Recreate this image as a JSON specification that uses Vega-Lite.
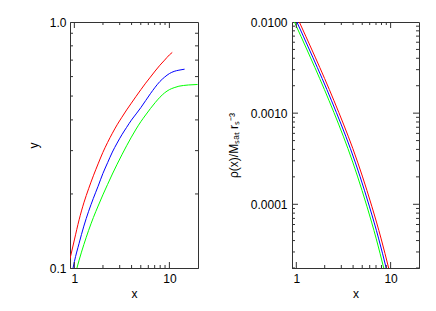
{
  "$schema": "https://vega.github.io/schema/vega-lite/v6.json",
  "padding": {"left": 26, "top": 15, "right": 5, "bottom": 5},
  "background": "white",
  "config": {
    "view": {"stroke": "#333333", "strokeWidth": 1},
    "font": "Liberation Sans",
    "axis": {
      "domain": true, "domainColor": "#333333", "domainWidth": 1, "ticks": false, "labelColor": "#000000", "titleColor": "#000000",
      "labelFontSize": 12, "titleFontSize": 12, "titleFontWeight": "normal", "grid": false,
      "labelFont": "Liberation Sans", "titleFont": "Liberation Sans", "labelFlush": false, "labelOverlap": false
    },
    "tick": {"color": "#333333", "thickness": 1, "opacity": 1}
  },
  "datasets": {
    "mass": [
      {"s": "r", "x": 0.9, "y": 0.109}, {"s": "r", "x": 1.0, "y": 0.130}, {"s": "r", "x": 1.122, "y": 0.157},
      {"s": "r", "x": 1.259, "y": 0.184}, {"s": "r", "x": 1.413, "y": 0.210}, {"s": "r", "x": 1.585, "y": 0.237},
      {"s": "r", "x": 1.778, "y": 0.265}, {"s": "r", "x": 1.995, "y": 0.295}, {"s": "r", "x": 2.239, "y": 0.324},
      {"s": "r", "x": 2.512, "y": 0.353}, {"s": "r", "x": 2.818, "y": 0.382}, {"s": "r", "x": 3.162, "y": 0.410},
      {"s": "r", "x": 3.548, "y": 0.439}, {"s": "r", "x": 3.981, "y": 0.468}, {"s": "r", "x": 4.467, "y": 0.499},
      {"s": "r", "x": 5.012, "y": 0.531}, {"s": "r", "x": 5.623, "y": 0.564}, {"s": "r", "x": 6.31, "y": 0.597},
      {"s": "r", "x": 7.079, "y": 0.632}, {"s": "r", "x": 7.943, "y": 0.667}, {"s": "r", "x": 8.913, "y": 0.700},
      {"s": "r", "x": 10.0, "y": 0.735}, {"s": "r", "x": 10.72, "y": 0.752},
      {"s": "b", "x": 0.969, "y": 0.100}, {"s": "b", "x": 1.0, "y": 0.106}, {"s": "b", "x": 1.122, "y": 0.126},
      {"s": "b", "x": 1.259, "y": 0.148}, {"s": "b", "x": 1.413, "y": 0.170}, {"s": "b", "x": 1.585, "y": 0.192},
      {"s": "b", "x": 1.778, "y": 0.215}, {"s": "b", "x": 1.995, "y": 0.242}, {"s": "b", "x": 2.239, "y": 0.268},
      {"s": "b", "x": 2.512, "y": 0.296}, {"s": "b", "x": 2.818, "y": 0.322}, {"s": "b", "x": 3.162, "y": 0.348},
      {"s": "b", "x": 3.548, "y": 0.373}, {"s": "b", "x": 3.981, "y": 0.399}, {"s": "b", "x": 4.467, "y": 0.423},
      {"s": "b", "x": 5.012, "y": 0.449}, {"s": "b", "x": 5.623, "y": 0.479}, {"s": "b", "x": 6.31, "y": 0.511},
      {"s": "b", "x": 7.079, "y": 0.543}, {"s": "b", "x": 7.943, "y": 0.573}, {"s": "b", "x": 8.913, "y": 0.597},
      {"s": "b", "x": 10.0, "y": 0.617}, {"s": "b", "x": 11.22, "y": 0.630}, {"s": "b", "x": 12.59, "y": 0.637},
      {"s": "b", "x": 14.45, "y": 0.643},
      {"s": "g", "x": 1.065, "y": 0.100}, {"s": "g", "x": 1.122, "y": 0.1076}, {"s": "g", "x": 1.259, "y": 0.1245},
      {"s": "g", "x": 1.413, "y": 0.1422}, {"s": "g", "x": 1.585, "y": 0.1603}, {"s": "g", "x": 1.778, "y": 0.1786},
      {"s": "g", "x": 1.995, "y": 0.1982}, {"s": "g", "x": 2.239, "y": 0.2188}, {"s": "g", "x": 2.512, "y": 0.241},
      {"s": "g", "x": 2.818, "y": 0.2642}, {"s": "g", "x": 3.162, "y": 0.2884}, {"s": "g", "x": 3.548, "y": 0.314},
      {"s": "g", "x": 3.981, "y": 0.3404}, {"s": "g", "x": 4.467, "y": 0.3673}, {"s": "g", "x": 5.012, "y": 0.3936},
      {"s": "g", "x": 5.623, "y": 0.4188}, {"s": "g", "x": 6.31, "y": 0.4446}, {"s": "g", "x": 7.079, "y": 0.4699},
      {"s": "g", "x": 7.943, "y": 0.4943}, {"s": "g", "x": 8.913, "y": 0.5152}, {"s": "g", "x": 10.0, "y": 0.5309},
      {"s": "g", "x": 11.22, "y": 0.5408}, {"s": "g", "x": 12.59, "y": 0.5483}, {"s": "g", "x": 14.13, "y": 0.5521},
      {"s": "g", "x": 15.85, "y": 0.5546}, {"s": "g", "x": 19.8, "y": 0.5572}
    ],
    "dens": [
      {"s": "r", "x": 1.076, "y": 0.01}, {"s": "r", "x": 1.259, "y": 0.0070}, {"s": "r", "x": 1.585, "y": 0.00412},
      {"s": "r", "x": 1.995, "y": 0.00240}, {"s": "r", "x": 2.512, "y": 0.001365}, {"s": "r", "x": 3.162, "y": 0.000759},
      {"s": "r", "x": 3.981, "y": 0.000407}, {"s": "r", "x": 5.012, "y": 0.000204}, {"s": "r", "x": 6.31, "y": 0.0000955},
      {"s": "r", "x": 7.943, "y": 0.0000417}, {"s": "r", "x": 9.528, "y": 0.0000200},
      {"s": "b", "x": 1.0135, "y": 0.01}, {"s": "b", "x": 1.186, "y": 0.0070}, {"s": "b", "x": 1.493, "y": 0.00412},
      {"s": "b", "x": 1.879, "y": 0.00240}, {"s": "b", "x": 2.366, "y": 0.001365}, {"s": "b", "x": 2.978, "y": 0.000759},
      {"s": "b", "x": 3.75, "y": 0.000407}, {"s": "b", "x": 4.721, "y": 0.000204}, {"s": "b", "x": 5.943, "y": 0.0000955},
      {"s": "b", "x": 7.482, "y": 0.0000417}, {"s": "b", "x": 8.975, "y": 0.0000200},
      {"s": "g", "x": 0.955, "y": 0.01}, {"s": "g", "x": 1.117, "y": 0.0070}, {"s": "g", "x": 1.406, "y": 0.00412},
      {"s": "g", "x": 1.77, "y": 0.00240}, {"s": "g", "x": 2.229, "y": 0.001365}, {"s": "g", "x": 2.805, "y": 0.000759},
      {"s": "g", "x": 3.532, "y": 0.000407}, {"s": "g", "x": 4.447, "y": 0.000204}, {"s": "g", "x": 5.598, "y": 0.0000955},
      {"s": "g", "x": 7.047, "y": 0.0000417}, {"s": "g", "x": 8.453, "y": 0.0000200}
    ],
    "xmin": [{"v": 2}, {"v": 3}, {"v": 4}, {"v": 5}, {"v": 6}, {"v": 7}, {"v": 8}, {"v": 9}],
    "xmaj": [{"v": 1}, {"v": 10}],
    "yAmin": [{"v": 0.2}, {"v": 0.3}, {"v": 0.4}, {"v": 0.5}, {"v": 0.6}, {"v": 0.7}, {"v": 0.8}, {"v": 0.9}],
    "yBmin": [
      {"v": 0.00002}, {"v": 0.00003}, {"v": 0.00004}, {"v": 0.00005}, {"v": 0.00006}, {"v": 0.00007}, {"v": 0.00008}, {"v": 0.00009},
      {"v": 0.0002}, {"v": 0.0003}, {"v": 0.0004}, {"v": 0.0005}, {"v": 0.0006}, {"v": 0.0007}, {"v": 0.0008}, {"v": 0.0009},
      {"v": 0.002}, {"v": 0.003}, {"v": 0.004}, {"v": 0.005}, {"v": 0.006}, {"v": 0.007}, {"v": 0.008}, {"v": 0.009}
    ],
    "yBmaj": [{"v": 0.0001}, {"v": 0.001}]
  },
  "spacing": 27,
  "hconcat": [
    {
      "width": 128, "height": 246,
      "resolve": {"axis": {"x": "independent", "y": "independent"}},
      "layer": [
        {
          "data": {"name": "mass"},
          "mark": {"type": "line", "clip": true, "strokeWidth": 1, "interpolate": "monotone"},
          "encoding": {
            "x": {"field": "x", "type": "quantitative",
              "scale": {"type": "log", "domain": [0.9, 20], "nice": false},
              "axis": {"orient": "bottom", "title": "x", "values": [1, 10], "format": "d",
                "labelPadding": 5, "titlePadding": 4}},
            "y": {"field": "y", "type": "quantitative",
              "scale": {"type": "log", "domain": [0.1, 1], "nice": false},
              "axis": {"orient": "left", "title": "y", "values": [0.1, 1.0], "format": ".1f",
                "labelPadding": 4, "titlePadding": 8, "minExtent": 22, "maxExtent": 22}},
            "color": {"field": "s", "type": "nominal",
              "scale": {"domain": ["r", "b", "g"], "range": ["#ff0000", "#0000ff", "#00ff00"]}, "legend": null}
          }
        },
        {"data": {"name": "xmin"}, "mark": {"type": "tick", "orient": "vertical", "size": 3, "yOffset": -1.5},
          "encoding": {"x": {"field": "v", "type": "quantitative", "axis": null}, "y": {"datum": 0.1, "type": "quantitative", "axis": null}}},
        {"data": {"name": "xmaj"}, "mark": {"type": "tick", "orient": "vertical", "size": 6, "yOffset": -3},
          "encoding": {"x": {"field": "v", "type": "quantitative", "axis": null}, "y": {"datum": 0.1, "type": "quantitative", "axis": null}}},
        {"data": {"name": "xmin"}, "mark": {"type": "tick", "orient": "vertical", "size": 3, "yOffset": 1.5},
          "encoding": {"x": {"field": "v", "type": "quantitative", "axis": null}, "y": {"datum": 1.0, "type": "quantitative", "axis": null}}},
        {"data": {"name": "xmaj"}, "mark": {"type": "tick", "orient": "vertical", "size": 6, "yOffset": 3},
          "encoding": {"x": {"field": "v", "type": "quantitative", "axis": null}, "y": {"datum": 1.0, "type": "quantitative", "axis": null}}},
        {"data": {"name": "yAmin"}, "mark": {"type": "tick", "orient": "horizontal", "size": 3, "xOffset": 1.5},
          "encoding": {"y": {"field": "v", "type": "quantitative", "axis": null}, "x": {"datum": 0.9, "type": "quantitative", "axis": null}}},
        {"data": {"name": "yAmin"}, "mark": {"type": "tick", "orient": "horizontal", "size": 3, "xOffset": -1.5},
          "encoding": {"y": {"field": "v", "type": "quantitative", "axis": null}, "x": {"datum": 20, "type": "quantitative", "axis": null}}}
      ]
    },
    {
      "width": 127, "height": 246,
      "resolve": {"axis": {"x": "independent", "y": "independent"}},
      "layer": [
        {
          "data": {"name": "dens"},
          "mark": {"type": "line", "clip": true, "strokeWidth": 1, "interpolate": "monotone"},
          "encoding": {
            "x": {"field": "x", "type": "quantitative",
              "scale": {"type": "log", "domain": [0.9, 20], "nice": false},
              "axis": {"orient": "bottom", "title": "x", "values": [1, 10], "format": "d",
                "labelPadding": 5, "titlePadding": 4}},
            "y": {"field": "y", "type": "quantitative",
              "scale": {"type": "log", "domain": [0.00002, 0.01], "nice": false},
              "axis": {"orient": "left", "title": "ρ(x)/Mₛₐₜ rₛ⁻³", "values": [0.0001, 0.001, 0.01], "format": ".4f",
                "labelPadding": 5, "titlePadding": 10, "minExtent": 42, "maxExtent": 42}},
            "color": {"field": "s", "type": "nominal",
              "scale": {"domain": ["r", "b", "g"], "range": ["#ff0000", "#0000ff", "#00ff00"]}, "legend": null}
          }
        },
        {"data": {"name": "xmin"}, "mark": {"type": "tick", "orient": "vertical", "size": 3, "yOffset": -1.5},
          "encoding": {"x": {"field": "v", "type": "quantitative", "axis": null}, "y": {"datum": 0.00002, "type": "quantitative", "axis": null}}},
        {"data": {"name": "xmaj"}, "mark": {"type": "tick", "orient": "vertical", "size": 6, "yOffset": -3},
          "encoding": {"x": {"field": "v", "type": "quantitative", "axis": null}, "y": {"datum": 0.00002, "type": "quantitative", "axis": null}}},
        {"data": {"name": "xmin"}, "mark": {"type": "tick", "orient": "vertical", "size": 3, "yOffset": 1.5},
          "encoding": {"x": {"field": "v", "type": "quantitative", "axis": null}, "y": {"datum": 0.01, "type": "quantitative", "axis": null}}},
        {"data": {"name": "xmaj"}, "mark": {"type": "tick", "orient": "vertical", "size": 6, "yOffset": 3},
          "encoding": {"x": {"field": "v", "type": "quantitative", "axis": null}, "y": {"datum": 0.01, "type": "quantitative", "axis": null}}},
        {"data": {"name": "yBmin"}, "mark": {"type": "tick", "orient": "horizontal", "size": 3, "xOffset": 1.5},
          "encoding": {"y": {"field": "v", "type": "quantitative", "axis": null}, "x": {"datum": 0.9, "type": "quantitative", "axis": null}}},
        {"data": {"name": "yBmin"}, "mark": {"type": "tick", "orient": "horizontal", "size": 3, "xOffset": -1.5},
          "encoding": {"y": {"field": "v", "type": "quantitative", "axis": null}, "x": {"datum": 20, "type": "quantitative", "axis": null}}},
        {"data": {"name": "yBmaj"}, "mark": {"type": "tick", "orient": "horizontal", "size": 6, "xOffset": 3},
          "encoding": {"y": {"field": "v", "type": "quantitative", "axis": null}, "x": {"datum": 0.9, "type": "quantitative", "axis": null}}},
        {"data": {"name": "yBmaj"}, "mark": {"type": "tick", "orient": "horizontal", "size": 6, "xOffset": -3},
          "encoding": {"y": {"field": "v", "type": "quantitative", "axis": null}, "x": {"datum": 20, "type": "quantitative", "axis": null}}}
      ]
    }
  ]
}
